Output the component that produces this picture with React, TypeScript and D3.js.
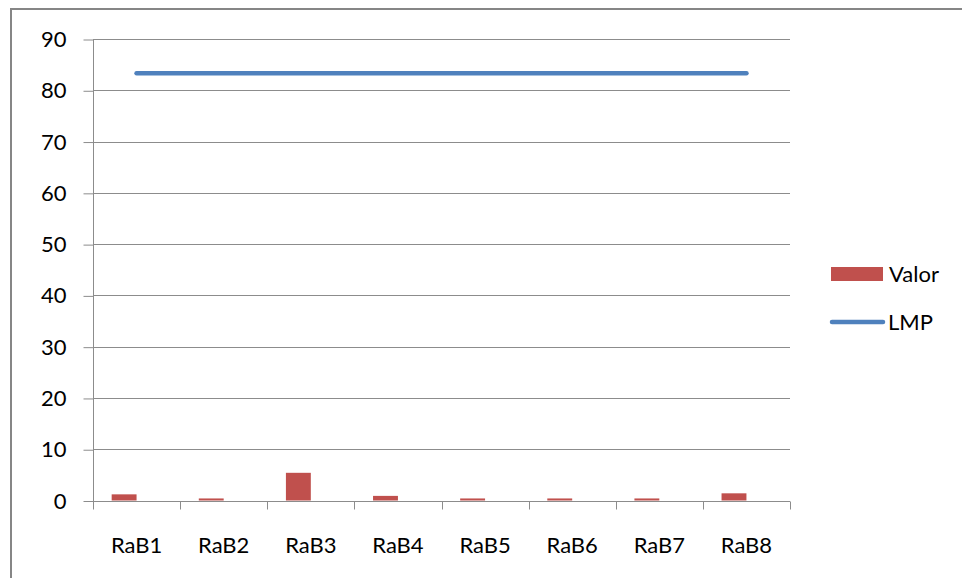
import { useEffect, useRef } from "react";
import * as d3 from "d3";

const categories = ["RaB1", "RaB2", "RaB3", "RaB4", "RaB5", "RaB6", "RaB7", "RaB8"];
const valor = [1.2, 0.4, 5.4, 0.9, 0.4, 0.4, 0.4, 1.4];
const lmp = [83.3, 83.3, 83.3, 83.3, 83.3, 83.3, 83.3, 83.3];
const yTicks = [0, 10, 20, 30, 40, 50, 60, 70, 80, 90];

const width = 962, height = 578;
const plot = { left: 93, right: 790, top: 39, bottom: 500.5 };
const font = "Lato, 'Open Sans', sans-serif";
const fontSize = 22;

const App = () => {
  const ref = useRef<SVGSVGElement>(null);

  useEffect(() => {
    const svg = d3.select(ref.current);
    svg.selectAll("*").remove();

    // chart frame
    svg.append("rect")
      .attr("x", 11).attr("y", 9)
      .attr("width", 970).attr("height", 600)
      .attr("fill", "#fff").attr("stroke", "#868686").attr("stroke-width", 2);

    const x = d3.scaleBand().domain(categories).range([plot.left, plot.right]);
    const y = d3.scaleLinear().domain([0, 90]).range([plot.bottom, plot.top]);

    // gridlines
    svg.append("g")
      .selectAll("line")
      .data(yTicks.filter(t => t > 0))
      .join("line")
        .attr("x1", plot.left).attr("x2", plot.right)
        .attr("y1", d => Math.round(y(d)) + 0.5).attr("y2", d => Math.round(y(d)) + 0.5)
        .attr("stroke", "#8c8c8c").attr("stroke-width", 1);

    // bars: two slots per category (excel clustered, gap 150%)
    const w = x.bandwidth() / 3.5;
    svg.append("g")
      .selectAll("rect")
      .data(valor)
      .join("rect")
        .attr("x", (d, i) => (x(categories[i]) as number) + 0.75 * w)
        .attr("y", d => y(d))
        .attr("width", w)
        .attr("height", d => y(0) - y(d))
        .attr("fill", "#C0504D");

    // y axis
    const yAxis = svg.append("g")
      .attr("transform", `translate(${plot.left + 0.5},0.5)`)
      .call(d3.axisLeft(y).tickValues(yTicks).tickSize(10).tickPadding(17));
    yAxis.selectAll("path, line").attr("stroke", "#8c8c8c");
    yAxis.select(".domain").attr("d", `M0,${plot.top}V${plot.bottom}`);
    yAxis.selectAll("text")
      .attr("font-family", font).attr("font-size", fontSize).attr("fill", "#000");

    // x axis
    const xAxis = svg.append("g")
      .attr("transform", `translate(0,${Math.round(plot.bottom) + 0.5})`)
      .call(d3.axisBottom(x).tickSize(0));
    xAxis.select(".domain").attr("d", `M${plot.left},0H${plot.right}`).attr("stroke", "#8c8c8c");
    xAxis.selectAll("text")
      .attr("y", 51).attr("dy", 0)
      .attr("font-family", font).attr("font-size", fontSize).attr("fill", "#000");
    xAxis.append("g")
      .selectAll("line")
      .data(d3.range(categories.length + 1))
      .join("line")
        .attr("x1", i => Math.round(plot.left + i * x.step()) + 0.5)
        .attr("x2", i => Math.round(plot.left + i * x.step()) + 0.5)
        .attr("y1", 0).attr("y2", 8)
        .attr("stroke", "#8c8c8c");

    // LMP line
    const line = d3.line<number>()
      .x((d, i) => (x(categories[i]) as number) + x.bandwidth() / 2)
      .y(d => y(d));
    svg.append("path")
      .datum(lmp)
      .attr("d", line)
      .attr("fill", "none")
      .attr("stroke", "#4F81BD")
      .attr("stroke-width", 4.5)
      .attr("stroke-linecap", "round");

    // legend
    const lg = svg.append("g").attr("font-family", font).attr("font-size", fontSize);
    lg.append("rect")
      .attr("x", 831).attr("y", 267).attr("width", 52).attr("height", 14)
      .attr("fill", "#C0504D");
    lg.append("text").attr("x", 889).attr("y", 281.5).text("Valor");
    lg.append("line")
      .attr("x1", 832).attr("x2", 883).attr("y1", 322).attr("y2", 322)
      .attr("stroke", "#4F81BD").attr("stroke-width", 4.5).attr("stroke-linecap", "round");
    lg.append("text").attr("x", 888).attr("y", 330).text("LMP");
  }, []);

  return (
    <svg ref={ref} width={width} height={height}
      style={{ position: "absolute", left: 0, top: 0, display: "block" }} />
  );
};

export default App;
